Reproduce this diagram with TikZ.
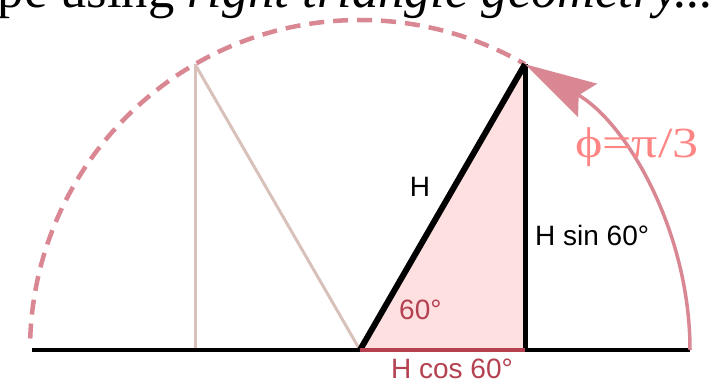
\documentclass[tikz,border=0pt]{standalone}
\usepackage{fontspec}
\setmainfont{Liberation Serif}
\newfontfamily\lsans{Liberation Sans}
\usetikzlibrary{arrows.meta,calc}
\definecolor{arcpink}{HTML}{DA8794}
\definecolor{ghost}{HTML}{D9C1BB}
\definecolor{trifill}{HTML}{FFE0E0}
\definecolor{labred}{HTML}{B3414F}
\definecolor{phicol}{HTML}{FF8585}
\tikzset{
  dasharc/.style={draw=arcpink,line width=4.5pt,dash pattern=on 15pt off 9pt},
  ghostline/.style={draw=ghost,line width=3pt},
  blackside/.style={draw=black,line width=6pt},
  baseline/.style={draw=black,line width=3.5pt},
  redbase/.style={draw=labred,line width=4pt},
  arrowarc/.style={draw=arcpink,line width=3.5pt,-{Stealth[length=72pt,width=38pt,inset=10pt]}},
  lab/.style={font=\lsans\fontsize{28}{32}\selectfont,inner sep=0pt},
}
\begin{document}
\begin{tikzpicture}[x=1pt,y=1pt]
\useasboundingbox (0,0) rectangle (720,384);
\clip (0,0) rectangle (720,384);
\coordinate (O) at (360,34);
\coordinate (A) at ($(O)+(60:330)$);
\coordinate (G) at ($(O)+(120:330)$);
\coordinate (F) at (525,34);
\coordinate (Gb) at (195,34);
\coordinate (L) at (32,34);
\coordinate (E) at (690,34);
\coordinate (D) at ($(O)+(178:330)$);
% title
\node[anchor=base east,inner sep=0pt,font=\fontsize{52.5}{60}\selectfont] (title) at (714,377) {pe using \textit{right triangle geometry...}};
% dashed arc
\draw[dasharc] (D) arc[start angle=178,end angle=60,radius=330pt];
% ghost triangle
\draw[ghostline] (G) -- (Gb);
\draw[ghostline] (G) -- (O);
% filled triangle
\fill[trifill] (O) -- (A) -- (F) -- cycle;
\draw[blackside] (O) -- (A);
\draw[blackside,line width=5pt] (A) -- (F);
% baseline
\draw[baseline] (L) -- (E);
\draw[redbase] (O) -- (F);
% arrow arc
\draw[arrowarc] (E) arc[start angle=0,end angle=60,radius=330pt];
% labels
\node[lab,anchor=base] (hlab) at (420,188) {H};
\node[lab,anchor=base west] (hsin) at (535,139) {H sin 60°};
\node[lab,anchor=base west,text=labred] (ang) at (399,65) {60°};
\node[lab,anchor=base,text=labred] (hcos) at (452,6) {H cos 60°};
\node[anchor=base west,inner sep=0pt,text=phicol,font=\fontsize{43}{50}\selectfont] (phi) at (575,227) {\scalebox{1.21}[1]{ϕ=π/3}};
\end{tikzpicture}
\end{document}
